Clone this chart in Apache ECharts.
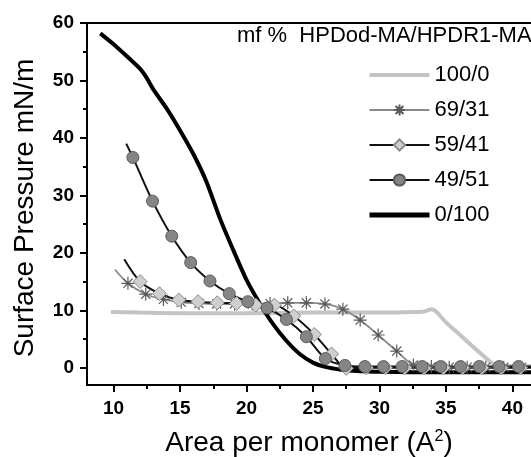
<!DOCTYPE html>
<html>
<head>
<meta charset="utf-8">
<script src="https://cdn.jsdelivr.net/npm/echarts@6/dist/echarts.min.js"></script>
<style>
  html, body { margin: 0; padding: 0; background: #fff; }
  #chart { width: 531px; height: 457px; }
</style>
</head>
<body>
<div id="chart"></div>
<script>
// 各条等温线数据 (面积 A^2, 表面压 mN/m)
var x100_0 = [9.8, 12, 15, 20, 25, 30, 32.6, 33.4, 33.9, 34.3, 35, 36, 37, 38, 38.6, 39.3, 41.4];
var y100_0 = [9.7, 9.6, 9.5, 9.5, 9.6, 9.6, 9.7, 9.8, 10.2, 9.7, 7.9, 5.85, 3.75, 1.7, 0.6, 0.3, 0.3];

var x69_31 = [10.1, 11.08, 12.42, 13.75, 15.09, 16.42, 17.76, 19.1, 20.43, 21.77, 23.1, 24.5, 25.9, 27.25, 28.55, 29.9, 31.3, 32.55, 33.9, 35.25, 36.6, 38.0, 39.35, 40.7, 41.4];
var y69_31 = [17.1, 14.7, 12.8, 11.9, 11.4, 11.2, 11.1, 11.1, 11.1, 11.2, 11.3, 11.3, 11.1, 10.2, 8.3, 5.7, 2.9, 0.5, 0.2, 0.1, 0.1, 0.1, 0.1, 0.1, 0.1];

var x59_41 = [10.8, 12.0, 13.45, 14.9, 16.35, 17.8, 19.25, 20.7, 22.1, 23.55, 25.1, 26.4, 27.5, 29.0, 30.45, 31.9, 33.35, 34.8, 36.25, 37.7, 39.15, 40.6, 41.4];
var y59_41 = [18.9, 15.0, 12.9, 11.8, 11.5, 11.3, 11.2, 10.9, 10.9, 9.0, 5.8, 2.4, -0.1, 0.0, 0.0, 0.0, 0.0, 0.0, 0.0, 0.0, 0.0, 0.0, 0.0];

var x49_51 = [10.95, 11.45, 12.93, 14.38, 15.8, 17.25, 18.7, 20.1, 21.55, 23.0, 24.5, 25.93, 27.4, 28.9, 30.3, 31.7, 33.2, 34.6, 36.1, 37.5, 39.0, 40.45, 41.4];
var y49_51 = [39.0, 36.6, 29.0, 22.9, 18.3, 15.1, 12.9, 11.5, 10.4, 8.4, 5.4, 1.6, 0.4, 0.2, 0.2, 0.2, 0.2, 0.2, 0.2, 0.2, 0.2, 0.2, 0.2];

var x0_100 = [9.0, 10.0, 11.0, 12.0, 12.5, 13.0, 14.0, 15.0, 16.0, 17.0, 18.0, 19.0, 20.0, 21.0, 22.0, 23.0, 24.0, 25.0, 26.0, 27.0, 28.0, 30.0, 35.0, 41.4];
var y0_100 = [58.2, 56.3, 54.2, 52.0, 50.4, 48.4, 45.1, 41.3, 37.2, 32.3, 26.0, 20.5, 15.3, 11.2, 7.6, 4.7, 2.4, 0.9, 0.1, -0.3, -0.5, -0.7, -0.8, -0.8];

var seriesNames = ['100/0', '69/31', '59/41', '49/51', '0/100'];
var xTicks = [10, 15, 20, 25, 30, 35, 40];
var xMinorTicks = [12.5, 17.5, 22.5, 27.5, 32.5, 37.5];
var yTicks = [0, 10, 20, 30, 40, 50, 60];
var yMinorTicks = [5, 15, 25, 35, 45, 55];

var FONT = 'Liberation Sans, Arial, sans-serif';
var STAR = 'path://M10,0L10,20M0,10L20,10M3,3L17,17M3,17L17,3';

// 首尾点不画标记
function toData(xs, ys, marked) {
	var last = xs.length - 1;
	return xs.map(function (x, i) {
		if (!marked || i === 0 || i === last) {
			return { value: [x, ys[i]], symbol: 'none' };
		}
		return [x, ys[i]];
	});
}

var myChart = echarts.init(document.getElementById('chart'), null, { renderer: 'canvas' });

var tickAxisX = {
	type: 'value', min: 8, max: 41.4, gridIndex: 0, position: 'bottom',
	axisLine: { show: false, onZero: false },
	axisLabel: { show: false },
	splitLine: { show: false }
};
var tickAxisY = {
	type: 'value', min: -3, max: 60, gridIndex: 0, position: 'left',
	axisLine: { show: false, onZero: false },
	axisLabel: { show: false },
	splitLine: { show: false }
};

// 图例: 无标记的两条线不显示圆点
var legendData = seriesNames.map(function (n) {
	if (n === '100/0') {
		return { name: n, itemStyle: { opacity: 0 }, lineStyle: { width: 4 } };
	}
	if (n === '0/100') {
		return { name: n, itemStyle: { opacity: 0 }, lineStyle: { width: 5 } };
	}
	return { name: n };
});

var option = {
	animation: false,
	backgroundColor: '#fff',
	title: {
		text: 'mf %  HPDod-MA/HPDR1-MA',
		left: 237, top: 25, padding: 0,
		textStyle: { fontFamily: FONT, fontSize: 22, fontWeight: 'normal', color: '#000' }
	},
	legend: {
		orient: 'vertical',
		left: 362, top: 59,
		itemWidth: 60, itemHeight: 14, itemGap: 13,
		data: legendData,
		textStyle: { fontFamily: FONT, fontSize: 22, color: '#000' }
	},
	grid: { left: 87, right: 0, top: 23, bottom: 72, containLabel: false, outerBoundsMode: 'none' },
	xAxis: [
		{
			type: 'value', min: 8, max: 41.4, position: 'bottom',
			name: 'Area per monomer (A{sup|2})',
			nameLocation: 'middle', nameGap: 44,
			nameTextStyle: {
				fontFamily: FONT, fontSize: 28, color: '#000',
				rich: { sup: { fontFamily: FONT, fontSize: 16, color: '#000', verticalAlign: 'top' } }
			},
			axisLine: { onZero: false, lineStyle: { color: '#000', width: 2 } },
			axisTick: { customValues: xTicks, length: 7, lineStyle: { color: '#000', width: 2 } },
			axisLabel: {
				customValues: xTicks, margin: 14,
				fontFamily: FONT, fontSize: 19, fontWeight: 'bold', color: '#000'
			},
			splitLine: { show: false }
		},
		Object.assign({}, tickAxisX, {
			axisTick: { customValues: xMinorTicks, length: 4, lineStyle: { color: '#000', width: 2 } }
		}),
		{
			type: 'value', min: 8, max: 41.4, position: 'top',
			axisLine: { onZero: false, lineStyle: { color: '#000', width: 2 } },
			axisTick: { show: false }, axisLabel: { show: false }, splitLine: { show: false }
		}
	],
	yAxis: [
		{
			type: 'value', min: -3, max: 60, position: 'left',
			name: 'Surface Pressure mN/m',
			nameLocation: 'middle', nameGap: 48, nameRotate: 90,
			nameTextStyle: { fontFamily: FONT, fontSize: 28, color: '#000', padding: [0, 8, 0, 0] },
			axisLine: { onZero: false, lineStyle: { color: '#000', width: 2 } },
			axisTick: { customValues: yTicks, length: 7, lineStyle: { color: '#000', width: 2 } },
			axisLabel: {
				customValues: yTicks, margin: 13,
				fontFamily: FONT, fontSize: 19, fontWeight: 'bold', color: '#000'
			},
			splitLine: { show: false }
		},
		Object.assign({}, tickAxisY, {
			axisTick: { customValues: yMinorTicks, length: 4, lineStyle: { color: '#000', width: 2 } }
		})
	],
	series: [
		{
			name: '100/0', type: 'line', smooth: 0.2, symbol: 'none',
			lineStyle: { color: '#c4c4c4', width: 4 },
			itemStyle: { color: '#c4c4c4' },
			data: toData(x100_0, y100_0, false)
		},
		{
			name: '69/31', type: 'line', smooth: 0.3, symbol: STAR, symbolSize: 13, showAllSymbol: true,
			lineStyle: { color: '#8a8a8a', width: 1.8 },
			itemStyle: { color: 'rgba(0,0,0,0)', borderColor: '#5a5a5a', borderWidth: 1.2 },
			data: toData(x69_31, y69_31, true)
		},
		{
			name: '59/41', type: 'line', smooth: 0.3, symbol: 'diamond', symbolSize: 14, showAllSymbol: true,
			lineStyle: { color: '#111', width: 2 },
			itemStyle: { color: '#cfcfcf', borderColor: '#8c8c8c', borderWidth: 1 },
			data: toData(x59_41, y59_41, true)
		},
		{
			name: '49/51', type: 'line', smooth: 0.3, symbol: 'circle', symbolSize: 12, showAllSymbol: true,
			lineStyle: { color: '#111', width: 2 },
			itemStyle: { color: '#858585', borderColor: '#5a5a5a', borderWidth: 1 },
			data: toData(x49_51, y49_51, true)
		},
		{
			name: '0/100', type: 'line', smooth: 0.2, symbol: 'none',
			lineStyle: { color: '#000', width: 4 },
			itemStyle: { color: '#000' },
			data: toData(x0_100, y0_100, false)
		}
	]
};

myChart.setOption(option);
</script>
</body>
</html>
